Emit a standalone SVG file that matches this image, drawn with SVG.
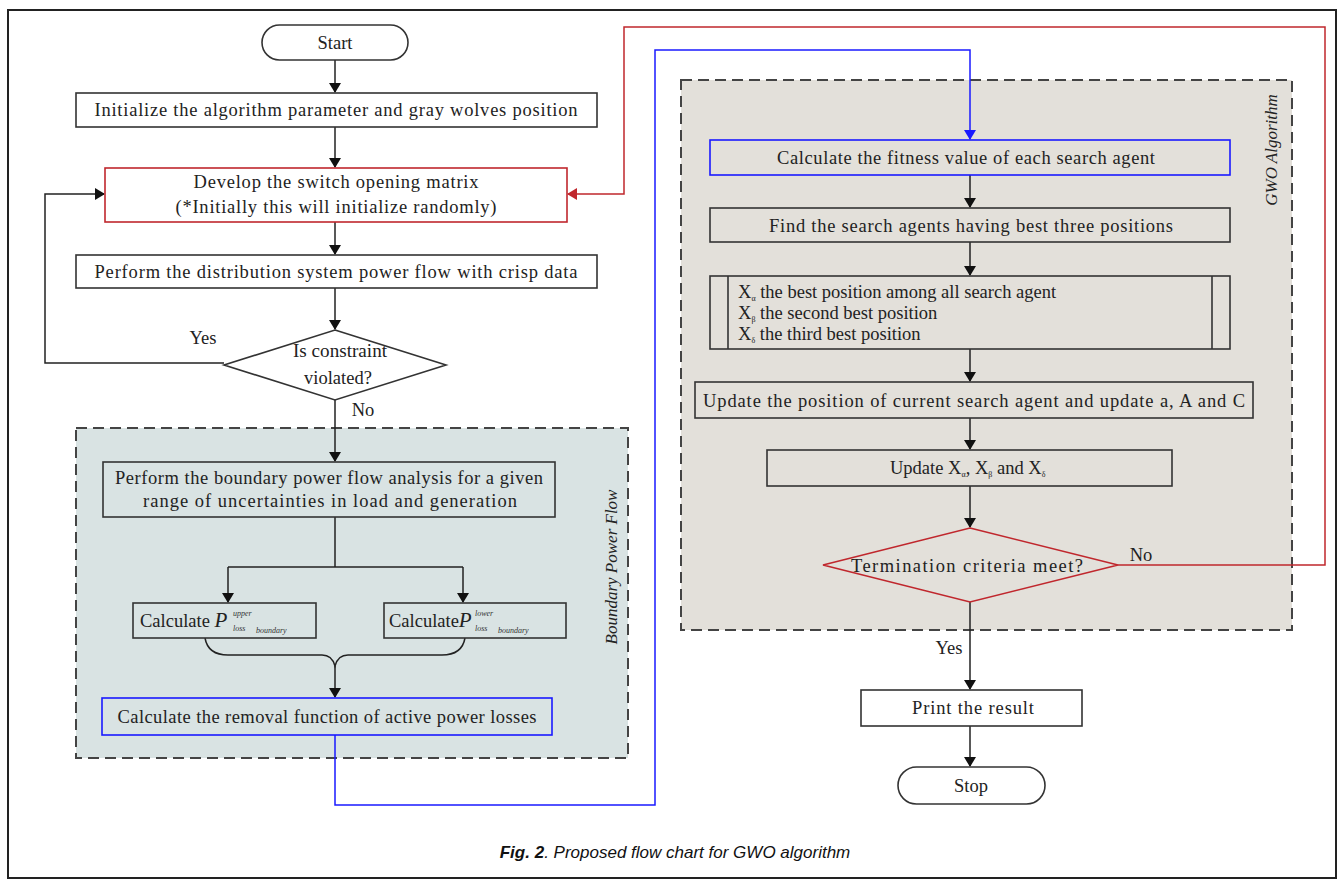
<svg xmlns="http://www.w3.org/2000/svg" width="1342" height="885" viewBox="0 0 1342 885">
<style>
.t{font-family:"Liberation Serif","Times New Roman",serif;font-size:18.5px;fill:#222;}
.s{font-family:"Liberation Serif","Times New Roman",serif;font-size:8px;font-style:italic;fill:#333;}
.box{fill:#fff;stroke:#333;stroke-width:1.6;}
.inb{fill:#d9e3e3;stroke:#333;stroke-width:1.6;}
.ing{fill:#e3e0da;stroke:#333;stroke-width:1.6;}
.c{fill:none;stroke:#222;stroke-width:1.5;}
.red{fill:none;stroke:#c0272d;stroke-width:1.5;}
.blue{fill:none;stroke:#1a1aff;stroke-width:1.5;}
.lab{font-family:"Liberation Serif","Times New Roman",serif;font-size:17px;font-style:italic;fill:#222;}
</style>
<defs>
<marker id="ah" markerWidth="10" markerHeight="12" refX="9" refY="6" orient="auto" markerUnits="userSpaceOnUse"><path d="M0,0 L10,6 L0,12 z" fill="#111"/></marker>
<marker id="ahr" markerWidth="10" markerHeight="12" refX="9" refY="6" orient="auto" markerUnits="userSpaceOnUse"><path d="M0,0 L10,6 L0,12 z" fill="#c0272d"/></marker>
<marker id="ahb" markerWidth="10" markerHeight="12" refX="9" refY="6" orient="auto" markerUnits="userSpaceOnUse"><path d="M0,0 L10,6 L0,12 z" fill="#1a1aff"/></marker>
</defs>
<rect x="0" y="0" width="1342" height="885" fill="#fff"/>
<rect x="8" y="10" width="1328" height="868" fill="none" stroke="#222" stroke-width="2"/>

<g id="region-boundary">
<rect x="76" y="428" width="552" height="330" fill="#d9e3e3" stroke="#444" stroke-width="2" stroke-dasharray="11 6"/>
<text class="lab" transform="translate(617,567) rotate(-90)" text-anchor="middle">Boundary Power Flow</text>
</g>
<g id="region-gwo">
<rect x="681" y="80" width="611" height="550" fill="#e3e0da" stroke="#444" stroke-width="2" stroke-dasharray="11 6"/>
<text class="lab" transform="translate(1277,150) rotate(-90)" text-anchor="middle">GWO Algorithm</text>
</g>

<g id="connectors">
<path class="c" d="M335,60 V92" marker-end="url(#ah)"/>
<path class="c" d="M335,127 V167" marker-end="url(#ah)"/>
<path class="c" d="M335,222 V254" marker-end="url(#ah)"/>
<path class="c" d="M335,288 V329" marker-end="url(#ah)"/>
<path class="c" d="M224,363 H45 V194 H104" marker-end="url(#ah)"/>
<path class="c" d="M335,400 V461" marker-end="url(#ah)"/>
<path class="c" d="M335,517 V567"/>
<path class="c" d="M228,567 H463"/>
<path class="c" d="M228,567 V602" marker-end="url(#ah)"/>
<path class="c" d="M463,567 V602" marker-end="url(#ah)"/>
<path class="c" d="M205,638 Q208,655 228,655 L322,655 Q332,655 335,666 Q338,655 348,655 L442,655 Q462,655 465,638"/>
<path class="c" d="M335,666 V697" marker-end="url(#ah)"/>
<path class="blue" d="M335,735 V805 H655 V50 H970 V139" marker-end="url(#ahb)"/>
<path class="red" d="M1118,565 H1325 V27 H624 V194 H568" marker-end="url(#ahr)"/>
<path class="c" d="M970,175 V207" marker-end="url(#ah)"/>
<path class="c" d="M970,242 V275" marker-end="url(#ah)"/>
<path class="c" d="M970,349 V381" marker-end="url(#ah)"/>
<path class="c" d="M970,418 V449" marker-end="url(#ah)"/>
<path class="c" d="M970,486 V527" marker-end="url(#ah)"/>
<path class="c" d="M970,602 V689" marker-end="url(#ah)"/>
<path class="c" d="M970,726 V766" marker-end="url(#ah)"/>
<text class="t" x="203" y="344" text-anchor="middle">Yes</text>
<text class="t" x="363" y="416" text-anchor="middle">No</text>
<text class="t" x="949" y="654" text-anchor="middle">Yes</text>
<text class="t" x="1141" y="561" text-anchor="middle">No</text>
</g>

<g id="start">
<rect class="box" x="262" y="25" width="146" height="35" rx="17.5"/>
<text class="t" x="335" y="49" text-anchor="middle">Start</text>
</g>
<g id="init">
<rect class="box" x="76" y="93" width="521" height="34"/>
<text class="t" x="336" y="116" text-anchor="middle" textLength="483" lengthAdjust="spacing">Initialize the algorithm parameter and gray wolves position</text>
</g>
<g id="develop">
<rect x="105" y="168" width="462" height="54" fill="#fff" stroke="#c0272d" stroke-width="1.6"/>
<text class="t" x="336" y="188" text-anchor="middle" textLength="285" lengthAdjust="spacing">Develop the switch opening matrix</text>
<text class="t" x="336" y="213" text-anchor="middle" textLength="321" lengthAdjust="spacing">(*Initially this will initialize randomly)</text>
</g>
<g id="perform-dist">
<rect class="box" x="76" y="255" width="521" height="33"/>
<text class="t" x="336" y="278" text-anchor="middle" textLength="483" lengthAdjust="spacing">Perform the distribution system power flow with crisp data</text>
</g>
<g id="constraint">
<polygon points="335,330 446,365 335,400 224,365" fill="#fff" stroke="#333" stroke-width="1.6"/>
<text class="t" x="340" y="357" text-anchor="middle" textLength="94" lengthAdjust="spacingAndGlyphs">Is constraint</text>
<text class="t" x="338" y="384" text-anchor="middle">violated?</text>
</g>
<g id="perform-boundary">
<rect class="inb" x="103" y="462" width="452" height="55"/>
<text class="t" x="329" y="484" text-anchor="middle" textLength="428" lengthAdjust="spacing">Perform the boundary power flow analysis for a given</text>
<text class="t" x="330" y="507" text-anchor="middle" textLength="374" lengthAdjust="spacing">range of uncertainties in load and generation</text>
</g>
<g id="calc-upper">
<rect class="inb" x="133" y="603" width="183" height="35"/>
<text class="t" x="140" y="627">Calculate <tspan font-style="italic" font-size="21">P</tspan></text>
<text class="s" x="233" y="616">upper</text>
<text class="s" x="233" y="631">loss</text>
<text class="s" x="256" y="633">boundary</text>
</g>
<g id="calc-lower">
<rect class="inb" x="384" y="603" width="182" height="35"/>
<text class="t" x="389" y="627">Calculate<tspan font-style="italic" font-size="21">P</tspan></text>
<text class="s" x="475" y="616">lower</text>
<text class="s" x="475" y="631">loss</text>
<text class="s" x="498" y="633">boundary</text>
</g>
<g id="removal">
<rect x="102" y="698" width="450" height="37" fill="#d9e3e3" stroke="#1a1aff" stroke-width="1.6"/>
<text class="t" x="327" y="723" text-anchor="middle" textLength="419" lengthAdjust="spacing">Calculate the removal function of active power losses</text>
</g>
<g id="fitness">
<rect x="710" y="140" width="520" height="35" fill="#e3e0da" stroke="#1a1aff" stroke-width="1.6"/>
<text class="t" x="966" y="164" text-anchor="middle" textLength="378" lengthAdjust="spacing">Calculate the fitness value of each search agent</text>
</g>
<g id="find">
<rect class="ing" x="710" y="208" width="520" height="34"/>
<text class="t" x="971" y="232" text-anchor="middle" textLength="404" lengthAdjust="spacing">Find the search agents having best three positions</text>
</g>
<g id="xbest">
<rect class="ing" x="710" y="276" width="520" height="73"/>
<line x1="728" y1="276" x2="728" y2="349" stroke="#333" stroke-width="1.6"/>
<line x1="1212" y1="276" x2="1212" y2="349" stroke="#333" stroke-width="1.6"/>
<text class="t" x="738" y="298" font-size="16">X<tspan font-size="8" dy="3">α</tspan><tspan dy="-3"> the  best position among all search agent</tspan></text>
<text class="t" x="738" y="319" font-size="16">X<tspan font-size="8" dy="3">β</tspan><tspan dy="-3"> the  second best position</tspan></text>
<text class="t" x="738" y="340" font-size="16">X<tspan font-size="8" dy="3">δ</tspan><tspan dy="-3"> the third best position</tspan></text>
</g>
<g id="update-pos">
<rect class="ing" x="695" y="382" width="558" height="36"/>
<text class="t" x="974" y="407" text-anchor="middle" textLength="542" lengthAdjust="spacing">Update the position of current search agent and update a, A and C</text>
</g>
<g id="update-x">
<rect class="ing" x="767" y="450" width="405" height="36"/>
<text class="t" x="890" y="474">Update X<tspan font-size="8" dy="3">α</tspan><tspan dy="-3">, X</tspan><tspan font-size="8" dy="3">β</tspan><tspan dy="-3"> and X</tspan><tspan font-size="8" dy="3">δ</tspan></text>
</g>
<g id="termination">
<polygon points="970,528 1118,565 970,602 823,565" fill="#e3e0da" stroke="#c0272d" stroke-width="1.6"/>
<text class="t" x="967" y="572" text-anchor="middle" textLength="232" lengthAdjust="spacing">Termination criteria meet?</text>
</g>
<g id="print">
<rect class="box" x="861" y="690" width="221" height="36"/>
<text class="t" x="973" y="714" text-anchor="middle" textLength="122" lengthAdjust="spacing">Print the result</text>
</g>
<g id="stop">
<rect class="box" x="898" y="767" width="147" height="37" rx="18.5"/>
<text class="t" x="971" y="792" text-anchor="middle">Stop</text>
</g>
<g id="caption">
<text x="675" y="858" text-anchor="middle" font-family="'Liberation Sans',Arial,sans-serif" font-size="17" font-style="italic" fill="#111"><tspan font-weight="bold">Fig. 2</tspan>. Proposed flow chart for GWO algorithm</text>
</g>
</svg>
